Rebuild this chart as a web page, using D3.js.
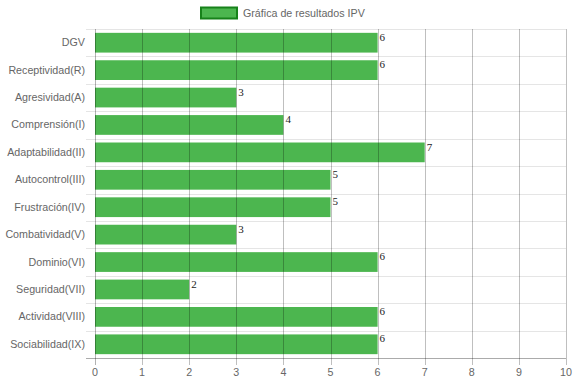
<!DOCTYPE html>
<html>
<head>
<meta charset="utf-8">
<script src="https://cdn.jsdelivr.net/npm/d3@7"></script>
<style>
  body { margin: 0; background: #fff; }
  .sans { font-family: Arial, "Liberation Sans", Helvetica, sans-serif; }
  .serif { font-family: "Liberation Serif", serif; font-weight: normal; }
</style>
</head>
<body>
<div id="chart"></div>
<script>
// data
const categories = ["DGV", "Receptividad(R)", "Agresividad(A)", "Comprensión(I)", "Adaptabilidad(II)",
  "Autocontrol(III)", "Frustración(IV)", "Combatividad(V)", "Dominio(VI)", "Seguridad(VII)",
  "Actividad(VIII)", "Sociabilidad(IX)"];
const values = [6, 6, 3, 4, 7, 5, 5, 3, 6, 2, 6, 6];
const xTicks = [0, 1, 2, 3, 4, 5, 6, 7, 8, 9, 10];
const seriesName = "Gráfica de resultados IPV";

const width = 574, height = 383;
const margin = {top: 29, right: 8, bottom: 25, left: 95};
const fs = 10.7;

const svg = d3.select("#chart").append("svg")
  .attr("width", width)
  .attr("height", height);

const x = d3.scaleLinear().domain([0, 10]).range([margin.left, width - margin.right]);
const y = d3.scaleBand().domain(categories).range([margin.top, height - margin.bottom])
  .paddingInner(0.28).paddingOuter(0.14);

// horizontal grid lines (between categories)
const hLines = d3.range(categories.length + 1).map(i => margin.top + i * (height - margin.top - margin.bottom) / categories.length);
svg.append("g").selectAll("line")
  .data(hLines)
  .enter().append("line")
    .attr("x1", margin.left - 9)
    .attr("x2", width - margin.right)
    .attr("y1", d => Math.round(d) + 0.5)
    .attr("y2", d => Math.round(d) + 0.5)
    .attr("stroke", "rgba(0,0,0,0.1)");

// bars
svg.append("g").selectAll("rect")
  .data(values)
  .enter().append("rect")
    .attr("x", x(0))
    .attr("y", (d, i) => y(categories[i]))
    .attr("width", d => x(d) - x(0))
    .attr("height", y.bandwidth())
    .attr("fill", "#4cb64f");

// vertical grid lines on top (they show through the bars)
svg.append("g").selectAll("line")
  .data(xTicks)
  .enter().append("line")
    .attr("x1", d => Math.round(x(d)) + 0.5)
    .attr("x2", d => Math.round(x(d)) + 0.5)
    .attr("y1", margin.top)
    .attr("y2", height - margin.bottom + 7)
    .attr("stroke", d => d === 0 ? "rgba(0,0,0,0.3)" : "rgba(0,0,0,0.25)");

// bottom axis line
svg.append("line")
  .attr("x1", margin.left - 9)
  .attr("x2", width - margin.right)
  .attr("y1", height - margin.bottom + 0.5)
  .attr("y2", height - margin.bottom + 0.5)
  .attr("stroke", "rgba(0,0,0,0.25)");

// x tick labels
svg.append("g").selectAll("text")
  .data(xTicks)
  .enter().append("text")
    .attr("class", "sans")
    .attr("x", d => x(d))
    .attr("y", height - margin.bottom + 18)
    .attr("text-anchor", "middle")
    .attr("font-size", fs)
    .attr("fill", "#666")
    .text(d => d);

// y labels
svg.append("g").selectAll("text")
  .data(categories)
  .enter().append("text")
    .attr("class", "sans")
    .attr("x", margin.left - 10)
    .attr("y", d => y(d) + y.bandwidth() / 2)
    .attr("dy", "0.33em")
    .attr("text-anchor", "end")
    .attr("font-size", fs)
    .attr("fill", "#666")
    .text(d => d);

// value labels at the end of each bar
svg.append("g").selectAll("text")
  .data(values)
  .enter().append("text")
    .attr("class", "serif")
    .attr("x", d => x(d) + 2)
    .attr("y", (d, i) => y(categories[i]) + 8)
    .attr("font-size", 11)
    .attr("fill", "#222")
    .text(d => d);

// legend
const legend = svg.append("g");
legend.append("rect")
  .attr("x", 201).attr("y", 7.5)
  .attr("width", 36).attr("height", 11)
  .attr("fill", "#4cb64f")
  .attr("stroke", "#17821a")
  .attr("stroke-width", 2);
legend.append("text")
  .attr("class", "sans")
  .attr("x", 243).attr("y", 13)
  .attr("dy", "0.35em")
  .attr("font-size", fs)
  .attr("fill", "#666")
  .text(seriesName);
</script>
</body>
</html>
